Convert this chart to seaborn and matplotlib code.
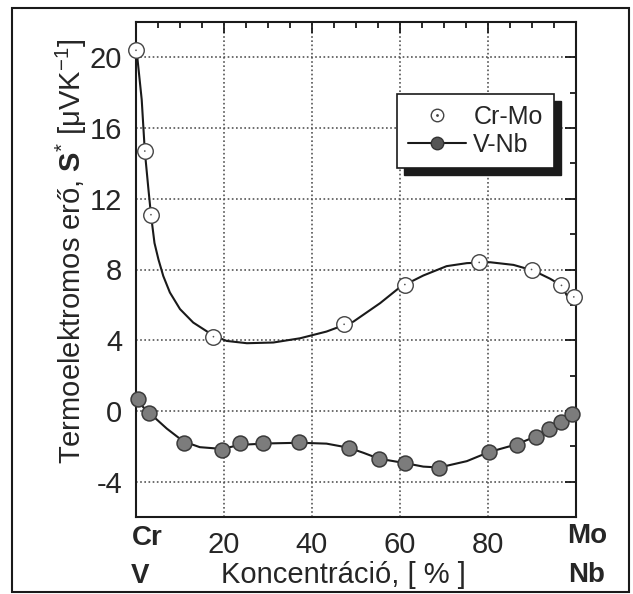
import matplotlib.pyplot as plt
import seaborn as sns
from matplotlib.lines import Line2D
from matplotlib.patches import Rectangle
from matplotlib.ticker import MultipleLocator

crmo_x = [0.0, 2.0, 3.4, 17.6, 47.3, 61.1, 78.0, 89.9, 96.7, 99.5]
crmo_y = [20.4, 14.7, 11.1, 4.2, 4.9, 7.15, 8.4, 8.0, 7.1, 6.45]

vnb_x = [0.4, 2.9, 10.8, 19.6, 23.6, 28.8, 37.0, 48.3, 55.2, 61.1, 68.9,
         80.2, 86.5, 90.8, 93.9, 96.6, 99.0]
vnb_y = [0.7, -0.1, -1.8, -2.2, -1.8, -1.8, -1.75, -2.1, -2.7, -2.95, -3.2,
         -2.35, -1.9, -1.45, -1.05, -0.6, -0.2]

# guide curves
crmo_curve_x = [0.3, 1.3, 2.0, 2.8, 3.4, 4.2, 5.1, 6.2, 7.7, 10.0, 13.0, 17.6,
                20.6, 25.2, 31.2, 37.3, 43.3, 49.4, 55.5, 60.0, 65.3, 70.6,
                75.2, 80.5, 85.8, 90.3, 94.1, 96.7, 97.9, 99.0, 100.0]
crmo_curve_y = [20.0, 17.6, 14.7, 12.6, 11.1, 9.5, 8.57, 7.63, 6.7, 5.76, 5.0,
                4.26, 3.96, 3.83, 3.87, 4.11, 4.49, 5.05, 6.1, 7.0, 7.66, 8.19,
                8.36, 8.41, 8.26, 7.94, 7.48, 7.1, 6.54, 6.17, 6.1]

vnb_curve_x = [1.5, 3.0, 5.0, 7.0, 10.75, 14.5, 19.6, 23.6, 29.7, 37.3, 43.3,
               48.3, 51.7, 55.2, 61.1, 65.3, 68.9, 75.2, 80.2, 86.5, 90.8,
               93.9, 96.6, 99.0]
vnb_curve_y = [0.25, -0.1, -0.55, -1.0, -1.72, -2.05, -2.15, -1.92, -1.84,
               -1.8, -1.85, -2.08, -2.37, -2.7, -2.95, -3.15, -3.2, -2.84,
               -2.33, -1.89, -1.45, -1.04, -0.57, -0.19]

x_ticks = [0, 20, 40, 60, 80, 100]
x_labels = ['', '20', '40', '60', '80', '']
y_ticks = [-4, 0, 4, 8, 12, 16, 20]

sns.set_theme(style='white')
plt.rcParams['font.family'] = ['Liberation Sans', 'DejaVu Sans']
plt.rcParams['mathtext.fontset'] = 'custom'
plt.rcParams['mathtext.rm'] = 'Liberation Sans'
plt.rcParams['mathtext.it'] = 'Liberation Sans:italic'
plt.rcParams['mathtext.bf'] = 'Liberation Sans:bold'
plt.rcParams['axes.unicode_minus'] = False

W, H = 633, 594
fig = plt.figure(figsize=(W / 100, H / 100), dpi=100)
ax = fig.add_axes([136 / W, 77 / H, 440 / W, 495 / H])

# curves
sns.lineplot(x=crmo_curve_x, y=crmo_curve_y, ax=ax, color='k', lw=1.5,
             sort=False, estimator=None, zorder=3)
sns.lineplot(x=vnb_curve_x, y=vnb_curve_y, ax=ax, color='k', lw=1.5,
             sort=False, estimator=None, zorder=3)

# points
sns.scatterplot(x=crmo_x, y=crmo_y, ax=ax, marker='o', s=125,
                facecolor='white', edgecolor='#444444', linewidth=1.0,
                zorder=4, clip_on=False)
sns.scatterplot(x=crmo_x, y=crmo_y, ax=ax, marker='.', s=6, color='#555555',
                edgecolor='none', zorder=5, clip_on=False)
sns.scatterplot(x=vnb_x, y=vnb_y, ax=ax, marker='o', s=115,
                facecolor='#7c7c7c', edgecolor='#3a3a3a', linewidth=1.1,
                zorder=4, clip_on=False)

ax.set_xlim(0, 100)
ax.set_ylim(-6, 22)
ax.set_xticks(x_ticks, x_labels)
ax.set_yticks(y_ticks, [str(v) for v in y_ticks])
ax.xaxis.set_minor_locator(MultipleLocator(5))
ax.yaxis.set_minor_locator(MultipleLocator(2))
ax.tick_params(which='both', direction='in', top=True, right=True,
               color='k', width=1.3)
ax.tick_params(which='major', length=8, labelsize=21, pad=10)
ax.tick_params(which='minor', length=4)
ax.grid(True, which='major', linestyle=(0, (1, 1.5)), color='#555555',
        linewidth=1.2)
ax.set_axisbelow(True)
for sp in ax.spines.values():
    sp.set_color('k')
    sp.set_linewidth(1.5)
ax.set_xlabel('')
ax.set_ylabel('')

# axis titles and element labels
fig.text(343 / W, 1 - 583 / H, 'Koncentráció, [ % ]', ha='center',
         va='baseline', fontsize=21)
fig.text(81 / W, 1 - 251 / H,
         'Termoelektromos erő, $\\mathbf{S}^{*}$ [μVK$^{-1}$]',
         rotation=90, rotation_mode='anchor', ha='center', va='baseline',
         fontsize=21)
fig.text(147 / W, 1 - 545 / H, 'Cr', ha='center', va='baseline',
         fontsize=20, fontweight='bold')
fig.text(140 / W, 1 - 583 / H, 'V', ha='center', va='baseline',
         fontsize=20, fontweight='bold')
fig.text(587 / W, 1 - 543 / H, 'Mo', ha='center', va='baseline',
         fontsize=20, fontweight='bold')
fig.text(587 / W, 1 - 582 / H, 'Nb', ha='center', va='baseline',
         fontsize=20, fontweight='bold')

# legend
h_crmo = (Line2D([], [], ls='none', marker='o', ms=9, mfc='white',
                 mec='#444444', mew=1.0),
          Line2D([], [], ls='none', marker='.', ms=2, color='#444444'))
h_vnb = Line2D([], [], color='k', lw=1.5, marker='o', ms=9, mfc='#555555',
               mec='#333333')
leg = ax.legend(handles=[h_crmo, h_vnb], labels=['Cr-Mo', 'V-Nb'],
                loc='upper right', bbox_to_anchor=(0.95, 0.855),
                frameon=True, fancybox=False, edgecolor='k', framealpha=1,
                fontsize=18, handlelength=2.3, handletextpad=0.3,
                borderpad=0.45, labelspacing=0.15, borderaxespad=0)
leg.get_frame().set_linewidth(1.2)
leg.set_zorder(6)

# legend drop shadow
fig.canvas.draw()
bb = leg.get_window_extent().transformed(fig.transFigure.inverted())
ax.add_patch(Rectangle((bb.x0 + 7 / W, bb.y0 - 7 / H), bb.width, bb.height,
                       transform=fig.transFigure, facecolor='k',
                       edgecolor='k', zorder=5.5, clip_on=False))

# outer frame
fig.add_artist(Rectangle((12 / W, 1 - 592 / H), (629 - 12) / W,
                         (592 - 8) / H, transform=fig.transFigure,
                         fill=False, edgecolor='k', linewidth=1.5))

fig.savefig('out.png', dpi=100)
